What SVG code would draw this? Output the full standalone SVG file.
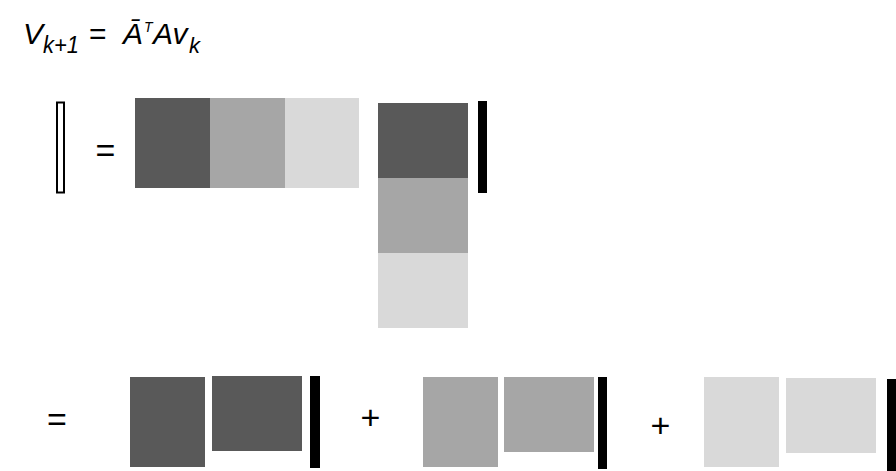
<svg xmlns="http://www.w3.org/2000/svg" width="896" height="471" viewBox="0 0 896 471">
<style>
.t{font-family:"Liberation Sans",Arial,sans-serif;fill:#000}
.i{font-style:italic}
.d{fill:#595959}
.m{fill:#a6a6a6}
.l{fill:#d9d9d9}
.b{fill:#000}
.op{font-family:"Liberation Sans",Arial,sans-serif;font-size:34px;fill:#000;text-anchor:middle}
</style>
<rect width="896" height="471" fill="#fff"/>
<g id="title">
<text class="t i" x="23" y="44" font-size="30">V</text>
<text class="t i" x="43" y="53" font-size="23" textLength="36" lengthAdjust="spacingAndGlyphs">k+1</text>
<text class="t" x="89" y="44" font-size="30">=</text>
<text class="t i" x="123" y="44" font-size="30">Ā</text>
<text class="t i" x="144" y="32" font-size="14">T</text>
<text class="t i" x="153" y="44" font-size="30">Av</text>
<text class="t i" x="189" y="53" font-size="22">k</text>
</g>
<g id="v-next">
<rect x="57" y="102.5" width="7" height="90" fill="#fff" stroke="#000" stroke-width="2"/>
</g>
<text class="op" x="105.5" y="162">=</text>
<g id="row-matrix">
<rect class="d" x="135" y="98" width="75" height="90"/>
<rect class="m" x="210" y="98" width="75" height="90"/>
<rect class="l" x="285" y="98" width="74" height="90"/>
</g>
<g id="col-matrix">
<rect class="d" x="378" y="103" width="90" height="75"/>
<rect class="m" x="378" y="178" width="90" height="75"/>
<rect class="l" x="378" y="253" width="90" height="75"/>
</g>
<g id="v-k">
<rect class="b" x="478" y="101" width="9" height="92"/>
</g>
<text class="op" x="57" y="431">=</text>
<g id="term1">
<rect class="d" x="130" y="377" width="75" height="90"/>
<rect class="d" x="212" y="376" width="90" height="75"/>
<rect class="b" x="310" y="376" width="10" height="92"/>
</g>
<text class="op" x="370.5" y="429">+</text>
<g id="term2">
<rect class="m" x="423" y="377" width="75" height="90"/>
<rect class="m" x="504" y="377" width="90" height="75"/>
<rect class="b" x="598" y="377" width="9" height="92"/>
</g>
<text class="op" x="660.5" y="437">+</text>
<g id="term3">
<rect class="l" x="704" y="377" width="75" height="90"/>
<rect class="l" x="786" y="378" width="90" height="75"/>
<rect class="b" x="887" y="379" width="9" height="92"/>
</g>
</svg>
